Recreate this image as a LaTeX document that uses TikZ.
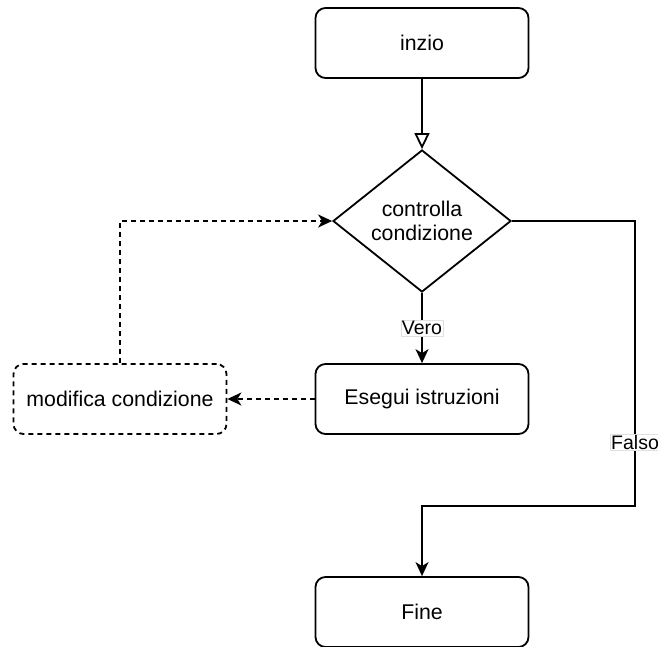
\documentclass[tikz,border=0pt]{standalone}
\usepackage{fontspec}
\setmainfont{Liberation Sans}
\usepackage{tikz}
\usetikzlibrary{
    arrows.meta,
    shapes.geometric,
    positioning
}

\tikzset{
    box/.style={draw, rounded corners=10pt, minimum width=213pt, minimum height=70pt, inner sep=0pt},
    boxdash/.style={box, dash pattern=on 5pt off 4pt},
    lbl/.style={draw=black!12, line width=0.6pt, fill=white, inner sep=1pt, font=\fontsize{19.5}{21}\selectfont},
}

\begin{document}
\begin{tikzpicture}[x=1pt, y=-1pt, line width=1.8pt, font=\fontsize{21.3}{24}\selectfont]
    \useasboundingbox (0,0) rectangle (658,646);
    \node[box] (inizio) at (422,43) {inzio};
    \node[draw, diamond, minimum width=178pt, minimum height=142pt, inner sep=0pt, align=center] (cond) at (422,221) {controlla\\condizione};
    \node[box] (esegui) at (422,399) {Esegui istruzioni};
    \node[boxdash] (modifica) at (120,399) {modifica condizione};
    \node[box] (fine) at (422,612) {Fine};
    \coordinate (giu) at (635,506);

    \draw[-{Triangle[open, length=16pt, width=15pt]}] (inizio) -- (cond);
    \draw[-{Stealth[length=14pt, width=13pt, inset=4pt]}] (cond) -- node[lbl] {Vero} (esegui);
    \draw[-{Stealth[length=14pt, width=13pt, inset=4pt]}, dash pattern=on 5pt off 4pt] (esegui) -- (modifica);
    \draw[-{Stealth[length=14pt, width=13pt, inset=4pt]}, dash pattern=on 5pt off 4pt] (modifica.north) |- (cond.west);
    \draw[-{Stealth[length=14pt, width=13pt, inset=4pt]}] (cond.east) -| (giu) node[lbl, pos=0.888] {Falso} -| (fine.north);
\end{tikzpicture}
\end{document}
